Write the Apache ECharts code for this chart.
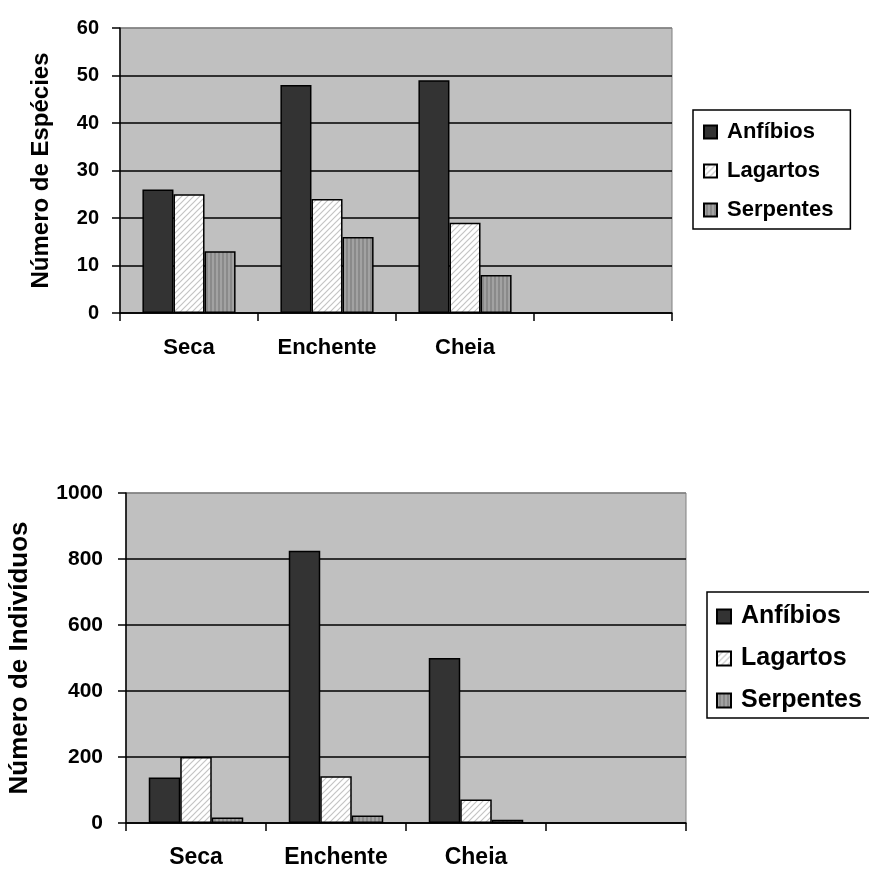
<!DOCTYPE html>
<html>
<head>
<meta charset="utf-8">
<script src="https://cdn.jsdelivr.net/npm/echarts@6/dist/echarts.min.js"></script>
<style>
html,body{margin:0;padding:0;background:#fff;}
#c{width:869px;height:871px;}
</style>
</head>
<body>
<div id="c"></div>
<script>
const categories = ['Seca', 'Enchente', 'Cheia', ''];
const seriesNames = ['Anfíbios', 'Lagartos', 'Serpentes'];
// Top chart: Número de Espécies
const anfibiosEsp = [26, 48, 49, null];
const lagartosEsp = [25, 24, 19, null];
const serpentesEsp = [13, 16, 8, null];
// Bottom chart: Número de Indivíduos
const anfibiosInd = [138, 825, 500, null];
const lagartosInd = [200, 142, 71, null];
const serpentesInd = [17, 23, 10, null];
const yEsp = { min: 0, max: 60, interval: 10 };
const yInd = { min: 0, max: 1000, interval: 200 };

const FONT = '"Liberation Sans", Arial, sans-serif';

function makePattern(w, h, draw) {
  const cv = document.createElement('canvas');
  cv.width = w; cv.height = h;
  const ctx = cv.getContext('2d');
  draw(ctx, w, h);
  return { image: cv, repeat: 'repeat' };
}
const hatch = makePattern(6, 6, (ctx, w, h) => {
  ctx.fillStyle = '#ffffff'; ctx.fillRect(0, 0, w, h);
  ctx.strokeStyle = '#c4c4c4'; ctx.lineWidth = 1.2;
  ctx.beginPath();
  ctx.moveTo(-1, h + 1); ctx.lineTo(w + 1, -1);
  ctx.moveTo(-1, 1); ctx.lineTo(1, -1);
  ctx.moveTo(w - 1, h + 1); ctx.lineTo(w + 1, h - 1);
  ctx.stroke();
});
const stripes = makePattern(4, 4, (ctx, w, h) => {
  ctx.fillStyle = '#a2a2a2'; ctx.fillRect(0, 0, 2, h);
  ctx.fillStyle = '#8a8a8a'; ctx.fillRect(2, 0, 2, h);
});
const fills = ['#333333', hatch, stripes];

function seriesFor(data, idx) {
  return data.map((d, i) => ({
    name: seriesNames[i],
    type: 'bar',
    xAxisIndex: idx, yAxisIndex: idx,
    data: d,
    barWidth: '22.5%',
    barGap: '0%',
    itemStyle: { color: fills[i], borderColor: '#000', borderWidth: 1.5 },
    emphasis: { disabled: true },
    animation: false
  }));
}

function xAxisFor(idx, fs, margin) {
  return {
    type: 'category', gridIndex: idx, data: categories,
    axisLine: { lineStyle: { color: '#000', width: 1.5 } },
    axisTick: { show: true, length: 8, lineStyle: { color: '#000', width: 1.5 } },
    axisLabel: { color: '#000', fontFamily: FONT, fontWeight: 'bold', fontSize: fs, margin: margin, interval: 0 },
    splitLine: { show: false }
  };
}
function yAxisFor(idx, cfg, name, fs, nfs, nameGap, margin, nlines) {
  const cols = [];
  for (let i = 0; i < nlines; i++) cols.push(i === nlines - 1 ? '#808080' : '#000');
  return {
    type: 'value', gridIndex: idx, min: cfg.min, max: cfg.max, interval: cfg.interval,
    name: name, nameLocation: 'middle', nameRotate: 90, nameGap: nameGap,
    nameTextStyle: { color: '#000', fontFamily: FONT, fontWeight: 'bold', fontSize: nfs },
    axisLine: { show: true, lineStyle: { color: '#000', width: 1.5 } },
    axisTick: { show: true, length: 8, lineStyle: { color: '#000', width: 1.5 } },
    axisLabel: { color: '#000', fontFamily: FONT, fontWeight: 'bold', fontSize: fs, margin: margin,
      formatter: v => String(v) },
    splitLine: { show: true, lineStyle: { color: cols, width: 1.5 } }
  };
}
function legendFor(left, top, size, fs, gap, padding) {
  return {
    data: seriesNames, orient: 'vertical', left: left, top: top,
    itemWidth: size, itemHeight: size, itemGap: gap,
    padding: padding,
    borderColor: '#000', borderWidth: 1.5, backgroundColor: '#fff',
    formatter: n => '{t|' + n + '}',
    textStyle: {
      color: '#000', fontFamily: FONT, fontWeight: 'bold', fontSize: fs,
      rich: { t: { color: '#000', fontFamily: FONT, fontWeight: 'bold', fontSize: fs, padding: [0, 0, 0, 5] } }
    },
    selectedMode: false, icon: 'rect'
  };
}

const chart = echarts.init(document.getElementById('c'), null, { renderer: 'canvas' });
chart.setOption({
  backgroundColor: '#ffffff',
  animation: false,
  grid: [
    { left: 120, top: 28, width: 552, height: 285, show: true, backgroundColor: '#c0c0c0', borderColor: '#808080', borderWidth: 1, outerBoundsMode: 'none', containLabel: false },
    { left: 126, top: 493, width: 560, height: 330, show: true, backgroundColor: '#c0c0c0', borderColor: '#808080', borderWidth: 1, outerBoundsMode: 'none', containLabel: false }
  ],
  legend: [
    legendFor(693, 110, 13, 22, 17, [11, 17, 8, 10]),
    legendFor(707, 592, 14, 25, 17, [12, 40, 5, 9])
  ],
  xAxis: [xAxisFor(0, 22, 24), xAxisFor(1, 23, 23)],
  yAxis: [
    yAxisFor(0, yEsp, 'Número de Espécies', 20, 24, 67, 21, 7),
    yAxisFor(1, yInd, 'Número de Indivíduos', 21, 26, 93, 23, 6)
  ],
  series: [].concat(
    seriesFor([anfibiosEsp, lagartosEsp, serpentesEsp], 0),
    seriesFor([anfibiosInd, lagartosInd, serpentesInd], 1)
  )
});
</script>
</body>
</html>
